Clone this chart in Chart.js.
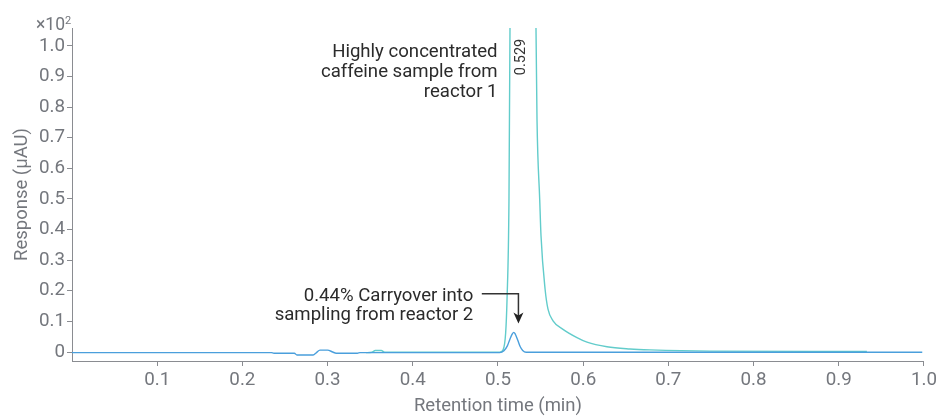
<!DOCTYPE html>
<html>
<head>
<meta charset="utf-8">
<script src="https://cdn.jsdelivr.net/npm/chart.js@4"></script>
<style>
  html, body { margin: 0; padding: 0; background: #fff; }
  #wrap { width: 940px; height: 417px; }
</style>
</head>
<body>
<div id="wrap"><canvas id="chromChart" width="940" height="417"></canvas></div>
<script>
// retention time (min) and response (x10^2 µAU)
const blueTime = [0, 0.234, 0.237, 0.261, 0.264, 0.283, 0.287, 0.291, 0.300, 0.306, 0.310, 0.335, 0.338,
                  0.502, 0.507, 0.511, 0.514, 0.517, 0.5185, 0.520, 0.523, 0.526, 0.529, 0.533, 0.998];
const blueResp = [-0.002, -0.002, -0.004, -0.004, -0.010, -0.010, -0.002, 0.006, 0.006, 0.000, -0.004, -0.004, -0.002,
                  -0.002, 0.004, 0.020, 0.042, 0.060, 0.064, 0.060, 0.040, 0.018, 0.005, -0.001, -0.001];

const tealTime = [0.345, 0.352, 0.356, 0.363, 0.367, 0.502, 0.506, 0.509, 0.5106, 0.5129, 0.5141, 0.520, 0.529,
                  0.540, 0.5446, 0.5458, 0.549, 0.5505, 0.5553, 0.5587, 0.5646, 0.5763, 0.5927, 0.6045, 0.6279,
                  0.6549, 0.6784, 0.7488, 0.933];
const tealResp = [-0.002, -0.001, 0.005, 0.005, -0.001, -0.001, 0.007, 0.062, 0.170, 0.497, 1.06, 1.80, 2.40,
                  1.60, 1.06, 0.76, 0.497, 0.380, 0.205, 0.140, 0.102, 0.074, 0.047, 0.032, 0.017,
                  0.010, 0.007, 0.003, 0.002];

const xTicks = [0.1, 0.2, 0.3, 0.4, 0.5, 0.6, 0.7, 0.8, 0.9, 1.0];
const yTicks = [0, 0.1, 0.2, 0.3, 0.4, 0.5, 0.6, 0.7, 0.8, 0.9, 1.0];

const peakLabel = '0.529';
const peakTime = 0.529;
const carryPeak = { time: 0.524, resp: 0.064 };

const toPoints = (xs, ys) => xs.map((x, i) => ({ x: x, y: ys[i] }));

const axisGray = '#8a8c91';
const labelGray = '#74777d';
const inkDark = '#2b2b2b';
const font = 'Roboto';

// annotation text, arrow, exponent and peak label
const notes = {
  id: 'notes',
  afterDatasetsDraw(chart) {
    const { ctx, scales: { x, y } } = chart;
    ctx.save();

    // x10^2 above the y axis
    ctx.fillStyle = labelGray;
    ctx.textAlign = 'right';
    ctx.textBaseline = 'alphabetic';
    ctx.font = '17.5px ' + font;
    ctx.fillText('×10', 65, 30);
    ctx.font = '11px ' + font;
    ctx.textAlign = 'left';
    ctx.fillText('2', 65, 24);

    // reactor 1 note
    ctx.fillStyle = inkDark;
    ctx.font = '18.6px ' + font;
    ctx.textAlign = 'right';
    const r1x = x.getPixelForValue(0.4995);
    const r1y = y.getPixelForValue(0.965);
    ['Highly concentrated', 'caffeine sample from', 'reactor 1'].forEach((t, i) => {
      ctx.fillText(t, r1x, r1y + i * 20);
    });

    // carryover note
    const r2x = x.getPixelForValue(0.471);
    const r2y = y.getPixelForValue(0.168);
    ['0.44% Carryover into', 'sampling from reactor 2'].forEach((t, i) => {
      ctx.fillText(t, r2x, r2y + i * 19.5);
    });

    // elbow arrow down to the small peak
    const ax0 = x.getPixelForValue(0.481);
    const ax1 = x.getPixelForValue(carryPeak.time);
    const ay0 = y.getPixelForValue(0.19);
    const tip = y.getPixelForValue(carryPeak.resp) - 9;
    ctx.strokeStyle = '#333';
    ctx.lineWidth = 1.5;
    ctx.beginPath();
    ctx.moveTo(ax0, ay0);
    ctx.lineTo(ax1, ay0);
    ctx.lineTo(ax1, tip - 6);
    ctx.stroke();
    ctx.fillStyle = '#222';
    ctx.beginPath();
    ctx.moveTo(ax1, tip);
    ctx.lineTo(ax1 - 5, tip - 11);
    ctx.lineTo(ax1, tip - 8);
    ctx.lineTo(ax1 + 5, tip - 11);
    ctx.closePath();
    ctx.fill();

    // peak retention time, rotated
    ctx.save();
    ctx.translate(x.getPixelForValue(peakTime) - 1, 57);
    ctx.rotate(-Math.PI / 2);
    ctx.font = '14.5px ' + font;
    ctx.fillStyle = '#333';
    ctx.textAlign = 'center';
    ctx.textBaseline = 'middle';
    ctx.fillText(peakLabel, 0, 0);
    ctx.restore();

    ctx.restore();
  }
};

const ctx = document.getElementById('chromChart').getContext('2d');

const chromChart = new Chart(ctx, {
  type: 'line',
  data: {
    datasets: [
      {
        label: 'Reactor 2',
        data: toPoints(blueTime, blueResp),
        borderColor: '#4a9fdc',
        borderWidth: 1.4,
        pointRadius: 0,
        cubicInterpolationMode: 'monotone'
      },
      {
        label: 'Reactor 1',
        data: toPoints(tealTime, tealResp),
        borderColor: '#62cccb',
        borderWidth: 1.4,
        pointRadius: 0,
        cubicInterpolationMode: 'monotone'
      }
    ]
  },
  options: {
    responsive: false,
    animation: false,
    devicePixelRatio: 1,
    layout: { padding: { top: 28, right: 16, bottom: 0, left: 0 } },
    plugins: {
      legend: { display: false },
      tooltip: { enabled: false }
    },
    scales: {
      x: {
        type: 'linear',
        min: 0,
        max: 1,
        afterBuildTicks: s => { s.ticks = xTicks.map(v => ({ value: v })); },
        afterFit: s => { s.height = 56; },
        ticks: {
          color: labelGray,
          font: { family: font, size: 18.8 },
          padding: 3,
          maxRotation: 0,
          callback: v => v.toFixed(1)
        },
        grid: { drawOnChartArea: false, drawTicks: true, tickLength: 5, color: axisGray },
        border: { color: axisGray, width: 1 },
        title: {
          display: true,
          text: 'Retention time (min)',
          color: labelGray,
          font: { family: font, size: 18.5 },
          padding: { top: 0, bottom: 0 }
        }
      },
      y: {
        type: 'linear',
        min: -0.0294,
        max: 1.0588,
        afterBuildTicks: s => { s.ticks = yTicks.map(v => ({ value: v })); },
        afterFit: s => { s.width = 72; },
        ticks: {
          color: labelGray,
          font: { family: font, size: 18.8 },
          padding: 2,
          callback: v => (v === 0 ? '0' : v.toFixed(1))
        },
        grid: { drawOnChartArea: false, drawTicks: true, tickLength: 5, color: axisGray },
        border: { color: axisGray, width: 1 },
        title: {
          display: true,
          text: 'Response (µAU)',
          color: labelGray,
          font: { family: font, size: 18.5 },
          padding: { top: 11, bottom: 0 }
        }
      }
    }
  },
  plugins: [notes]
});
</script>
</body>
</html>
